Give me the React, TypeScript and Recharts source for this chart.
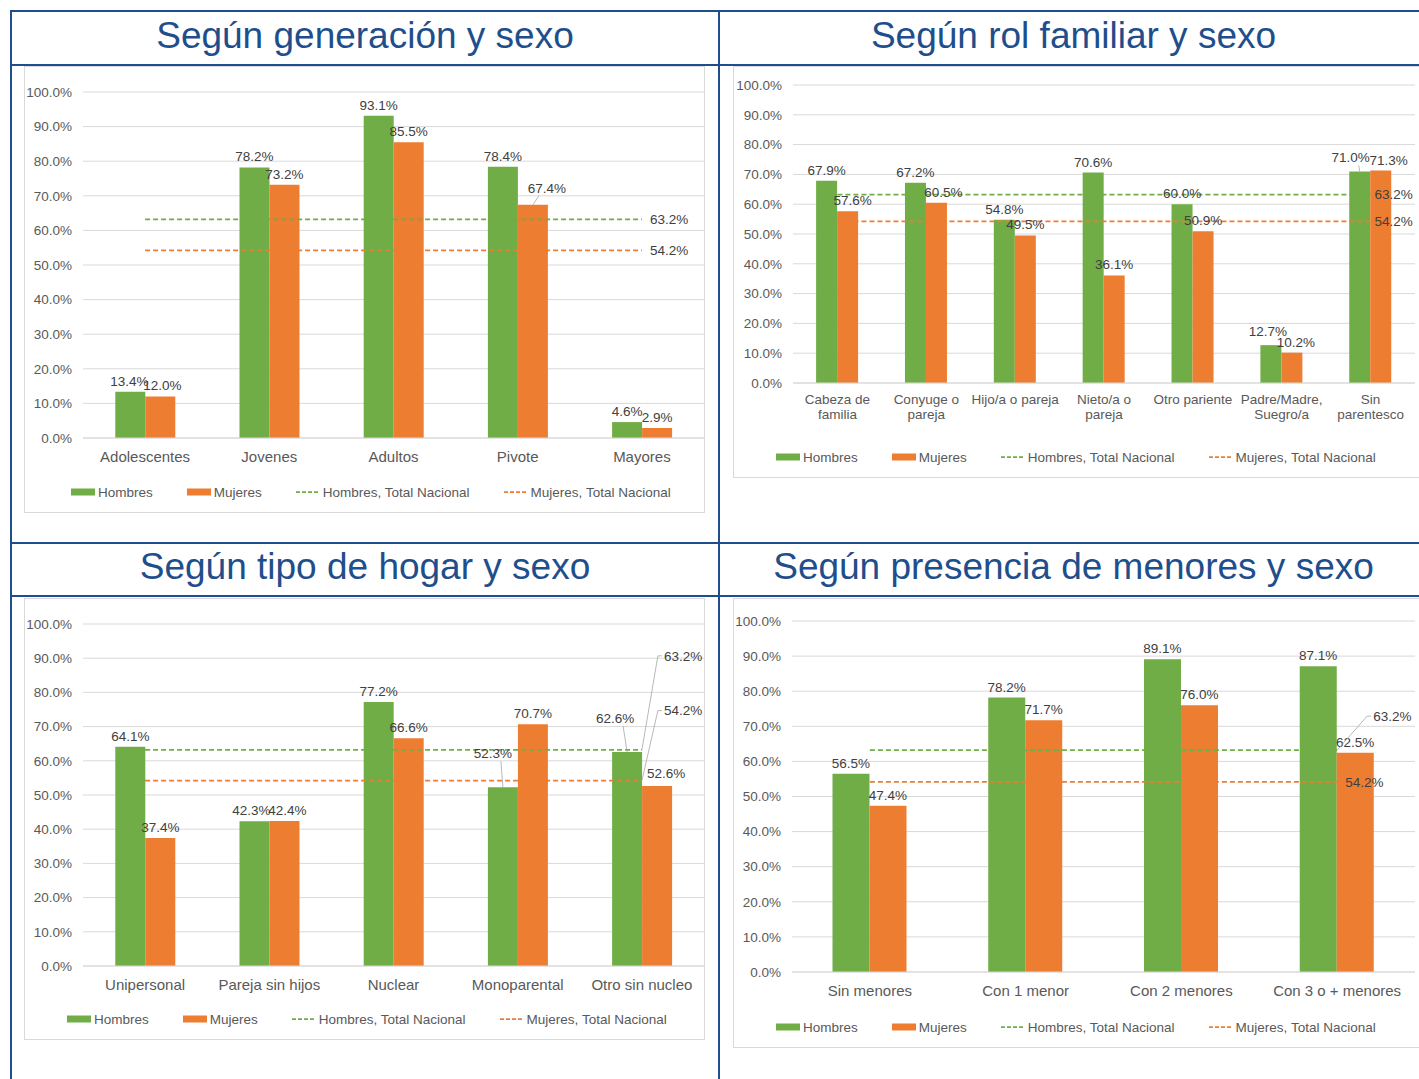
import React from "react";
import {
  ComposedChart,
  Bar,
  Line,
  XAxis,
  YAxis,
  CartesianGrid,
  Legend,
  LabelList,
} from "recharts";

const FONT = '"Liberation Sans", Arial, sans-serif';
const GREEN = "#70AD47";
const ORANGE = "#ED7D31";
const BLUE = "#1F4E8C";
const TEXT = "#595959";
const LABEL = "#404040";
const GRID = "#D9D9D9";
const LEADER = "#A6A6A6";

// ---- data ----
const Y_TICKS = [0, 10, 20, 30, 40, 50, 60, 70, 80, 90, 100];
const HOMBRES_NACIONAL = 63.2;
const MUJERES_NACIONAL = 54.2;
const LEGEND_LABELS = ["Hombres", "Mujeres", "Hombres, Total Nacional", "Mujeres, Total Nacional"];

const TITLES = [
  "Según generación y sexo",
  "Según rol familiar y sexo",
  "Según tipo de hogar y sexo",
  "Según presencia de menores y sexo",
];

const generacionCategorias = ["Adolescentes", "Jovenes", "Adultos", "Pivote", "Mayores"];
const generacionHombres = [13.4, 78.2, 93.1, 78.4, 4.6];
const generacionMujeres = [12.0, 73.2, 85.5, 67.4, 2.9];

const rolCategorias = [
  "Cabeza de\nfamilia",
  "Conyuge o\npareja",
  "Hijo/a o pareja",
  "Nieto/a o\npareja",
  "Otro pariente",
  "Padre/Madre,\nSuegro/a",
  "Sin\nparentesco",
];
const rolHombres = [67.9, 67.2, 54.8, 70.6, 60.0, 12.7, 71.0];
const rolMujeres = [57.6, 60.5, 49.5, 36.1, 50.9, 10.2, 71.3];

const hogarCategorias = ["Unipersonal", "Pareja sin hijos", "Nuclear", "Monoparental", "Otro sin nucleo"];
const hogarHombres = [64.1, 42.3, 77.2, 52.3, 62.6];
const hogarMujeres = [37.4, 42.4, 66.6, 70.7, 52.6];

const menoresCategorias = ["Sin menores", "Con 1 menor", "Con 2 menores", "Con 3 o + menores"];
const menoresHombres = [56.5, 78.2, 89.1, 87.1];
const menoresMujeres = [47.4, 71.7, 76.0, 62.5];

const buildRows = (cats: string[], h: number[], m: number[]) =>
  cats.map((c, i) => ({
    cat: c,
    hombres: h[i],
    mujeres: m[i],
    hNac: HOMBRES_NACIONAL,
    mNac: MUJERES_NACIONAL,
  }));

const fmt = (v: any) => `${Number(v).toFixed(1)}%`;

type Adj = { dx?: number; dy?: number; leader?: boolean };

const getBox = (p: any) => {
  const vb = p.viewBox || {};
  return {
    x: p.x ?? vb.x ?? 0,
    y: p.y ?? vb.y ?? 0,
    w: p.width ?? vb.width ?? 0,
  };
};

const makeBarLabel = (adj: Record<number, Adj>) => (props: any) => {
  const { x, y, w } = getBox(props);
  const a = adj[props.index] || {};
  const cx = x + w / 2;
  const dx = a.dx || 0;
  const tx = cx + dx;
  const ty = y - 6 + (a.dy || 0);
  const sx = tx - Math.sign(dx) * 8;
  return (
    <g>
      {a.leader && (
        <line x1={sx} y1={ty + 3} x2={cx} y2={y} stroke={LEADER} strokeWidth={0.8} />
      )}
      <text x={tx} y={ty} textAnchor="middle" fill={LABEL} fontSize={13.5} fontFamily={FONT}>
        {fmt(props.value)}
      </text>
    </g>
  );
};

const makeEndLabel = (n: number, a: Adj) => (props: any) => {
  if (props.index !== n - 1) return null;
  const { x, y } = getBox(props);
  const tx = x + (a.dx ?? 6);
  const cy = y + (a.dy ?? 0);
  return (
    <g>
      {a.leader && (
        <polyline
          points={`${x},${y} ${tx - 6},${cy} ${tx - 2},${cy}`}
          fill="none"
          stroke={LEADER}
          strokeWidth={0.8}
        />
      )}
      <text x={tx} y={cy + 4.8} textAnchor="start" fill={LABEL} fontSize={13.5} fontFamily={FONT}>
        {fmt(props.value)}
      </text>
    </g>
  );
};

const LegendRow = ({ left }: { left: number }) => {
  const kinds = [
    { kind: "bar", color: GREEN },
    { kind: "bar", color: ORANGE },
    { kind: "line", color: GREEN },
    { kind: "line", color: ORANGE },
  ];
  return (
    <div
      style={{
        display: "flex",
        alignItems: "center",
        height: 40,
        paddingLeft: left,
        fontFamily: FONT,
        fontSize: 13.5,
        color: TEXT,
        whiteSpace: "nowrap",
      }}
    >
      {LEGEND_LABELS.map((label, i) => (
        <div key={i} style={{ display: "flex", alignItems: "center", marginRight: 34 }}>
          <svg width={24} height={10} style={{ display: "block" }}>
            {kinds[i].kind === "bar" ? (
              <rect x={0} y={1.5} width={24} height={7} fill={kinds[i].color} />
            ) : (
              <line x1={0} y1={5} x2={24} y2={5} stroke={kinds[i].color} strokeWidth={1.75} strokeDasharray="4 2" />
            )}
          </svg>
          <span style={{ marginLeft: 3 }}>{label}</span>
        </div>
      ))}
    </div>
  );
};

const CatTick = (props: any) => {
  const { x, y, payload, fontSize, dyFirst, lineH } = props;
  const lines = String(payload.value).split("\n");
  return (
    <text x={x} y={y} textAnchor="middle" fill={TEXT} fontSize={fontSize} fontFamily={FONT}>
      {lines.map((l: string, i: number) => (
        <tspan key={i} x={x} y={y + dyFirst + i * lineH}>
          {l}
        </tspan>
      ))}
    </text>
  );
};

type PanelProps = {
  rows: any[];
  width: number;
  height: number;
  top: number;
  right: number;
  yWidth: number;
  xHeight: number;
  catFont: number;
  catDy: number;
  catLineH?: number;
  legendLeft: number;
  hAdj?: Record<number, Adj>;
  mAdj?: Record<number, Adj>;
  hEnd?: Adj;
  mEnd?: Adj;
};

const Panel = (p: PanelProps) => {
  const n = p.rows.length;
  return (
    <ComposedChart
      width={p.width}
      height={p.height}
      data={p.rows}
      margin={{ top: p.top, right: p.right, left: 0, bottom: 0 }}
      barCategoryGap="26%"
      barGap={0}
    >
      <CartesianGrid vertical={false} stroke={GRID} />
      <XAxis
        dataKey="cat"
        interval={0}
        height={p.xHeight}
        tickLine={false}
        axisLine={{ stroke: GRID }}
        tickMargin={2}
        tick={(tp: any) => (
          <CatTick {...tp} fontSize={p.catFont} dyFirst={p.catDy} lineH={p.catLineH ?? 15} />
        )}
      />
      <YAxis
        domain={[0, 100]}
        ticks={Y_TICKS}
        width={p.yWidth}
        axisLine={false}
        tickLine={false}
        tickMargin={5}
        tickFormatter={(v: number) => `${v.toFixed(1)}%`}
        tick={{ fill: TEXT, fontSize: 13.5, fontFamily: FONT }}
      />
      <Legend
        verticalAlign="bottom"
        align="left"
        height={40}
        wrapperStyle={{ left: 0, bottom: 0, width: p.width }}
        content={() => <LegendRow left={p.legendLeft} />}
      />
      <Line
        dataKey="hNac"
        stroke={GREEN}
        strokeWidth={1.75}
        strokeDasharray="5 3"
        dot={false}
        activeDot={false}
        isAnimationActive={false}
      />
      <Line
        dataKey="mNac"
        stroke={ORANGE}
        strokeWidth={1.75}
        strokeDasharray="5 3"
        dot={false}
        activeDot={false}
        isAnimationActive={false}
      />
      <Bar dataKey="hombres" fill={GREEN} isAnimationActive={false}>
        <LabelList dataKey="hombres" content={makeBarLabel(p.hAdj || {})} />
      </Bar>
      <Bar dataKey="mujeres" fill={ORANGE} isAnimationActive={false}>
        <LabelList dataKey="mujeres" content={makeBarLabel(p.mAdj || {})} />
      </Bar>
      <Line
        dataKey="hNac"
        stroke="none"
        dot={false}
        activeDot={false}
        legendType="none"
        isAnimationActive={false}
      >
        <LabelList dataKey="hNac" content={makeEndLabel(n, p.hEnd || {})} />
      </Line>
      <Line
        dataKey="mNac"
        stroke="none"
        dot={false}
        activeDot={false}
        legendType="none"
        isAnimationActive={false}
      >
        <LabelList dataKey="mNac" content={makeEndLabel(n, p.mEnd || {})} />
      </Line>
    </ComposedChart>
  );
};

const Rule = ({ l, t, w, h }: { l: number; t: number; w: number; h: number }) => (
  <div style={{ position: "absolute", left: l, top: t, width: w, height: h, background: BLUE }} />
);

const Title = ({ l, t, w, h, text }: { l: number; t: number; w: number; h: number; text: string }) => (
  <div
    style={{
      position: "absolute",
      left: l,
      top: t,
      width: w,
      height: h,
      display: "flex",
      alignItems: "center",
      justifyContent: "center",
      fontFamily: FONT,
      fontSize: 37,
      color: BLUE,
      paddingBottom: 5,
      boxSizing: "border-box",
      whiteSpace: "nowrap",
    }}
  >
    {text}
  </div>
);

const Box = ({ l, t, w, h, children }: any) => (
  <div
    style={{
      position: "absolute",
      left: l,
      top: t,
      width: w,
      height: h,
      border: `1px solid ${GRID}`,
      boxSizing: "border-box",
      background: "#fff",
    }}
  >
    {children}
  </div>
);

export default function App() {
  const genRows = buildRows(generacionCategorias, generacionHombres, generacionMujeres);
  const rolRows = buildRows(rolCategorias, rolHombres, rolMujeres);
  const hogRows = buildRows(hogarCategorias, hogarHombres, hogarMujeres);
  const menRows = buildRows(menoresCategorias, menoresHombres, menoresMujeres);

  return (
    <div
      style={{
        position: "absolute",
        left: 0,
        top: 0,
        width: 1419,
        height: 1079,
        overflow: "hidden",
        background: "#fff",
      }}
    >
      <Rule l={10} t={10} w={1420} h={2} />
      <Rule l={10} t={10} w={2} h={1080} />
      <Rule l={718} t={10} w={2} h={1080} />
      <Rule l={10} t={64} w={1420} h={2} />
      <Rule l={10} t={542} w={1420} h={2} />
      <Rule l={10} t={595} w={1420} h={2} />

      <Title l={12} t={12} w={706} h={52} text={TITLES[0]} />
      <Title l={720} t={12} w={707} h={52} text={TITLES[1]} />
      <Title l={12} t={544} w={706} h={51} text={TITLES[2]} />
      <Title l={720} t={544} w={707} h={51} text={TITLES[3]} />

      <Box l={24} t={66} w={681} h={447}>
        <Panel
          rows={genRows}
          width={679}
          height={445}
          top={25}
          right={0}
          yWidth={58}
          xHeight={34}
          catFont={15}
          catDy={16}
          legendLeft={46}
          hAdj={{ 0: { dx: -1 } }}
          mAdj={{ 0: { dx: 2 }, 3: { dx: 14, dy: -6, leader: true } }}
          hEnd={{ dx: 8 }}
          mEnd={{ dx: 8 }}
        />
      </Box>

      <Box l={733} t={66} w={688} h={412}>
        <Panel
          rows={rolRows}
          width={686}
          height={410}
          top={18}
          right={5}
          yWidth={59}
          xHeight={54}
          catFont={13.5}
          catDy={13}
          catLineH={15}
          legendLeft={42}
          hAdj={{ 5: { dx: -3, dy: -3 }, 6: { dx: -9, dy: -3, leader: true } }}
          mAdj={{ 0: { dx: 5 }, 1: { dx: 7 }, 5: { dx: 4 }, 6: { dx: 8 } }}
          hEnd={{ dx: 4 }}
          mEnd={{ dx: 4 }}
        />
      </Box>

      <Box l={24} t={598} w={681} h={442}>
        <Panel
          rows={hogRows}
          width={679}
          height={440}
          top={25}
          right={0}
          yWidth={58}
          xHeight={33}
          catFont={15}
          catDy={15.5}
          legendLeft={42}
          hAdj={{ 1: { dx: -3 }, 3: { dx: -10, dy: -23, leader: true }, 4: { dx: -12, dy: -23, leader: true } }}
          mAdj={{ 1: { dx: 3 }, 4: { dx: 9, dy: -2 } }}
          hEnd={{ dx: 22, dy: -94, leader: true }}
          mEnd={{ dx: 22, dy: -70, leader: true }}
        />
      </Box>

      <Box l={733} t={598} w={688} h={450}>
        <Panel
          rows={menRows}
          width={686}
          height={448}
          top={22}
          right={5}
          yWidth={58}
          xHeight={35}
          catFont={15}
          catDy={16}
          legendLeft={42}
          hEnd={{ dx: 36, dy: -34, leader: true }}
          mEnd={{ dx: 8 }}
        />
      </Box>
    </div>
  );
}
